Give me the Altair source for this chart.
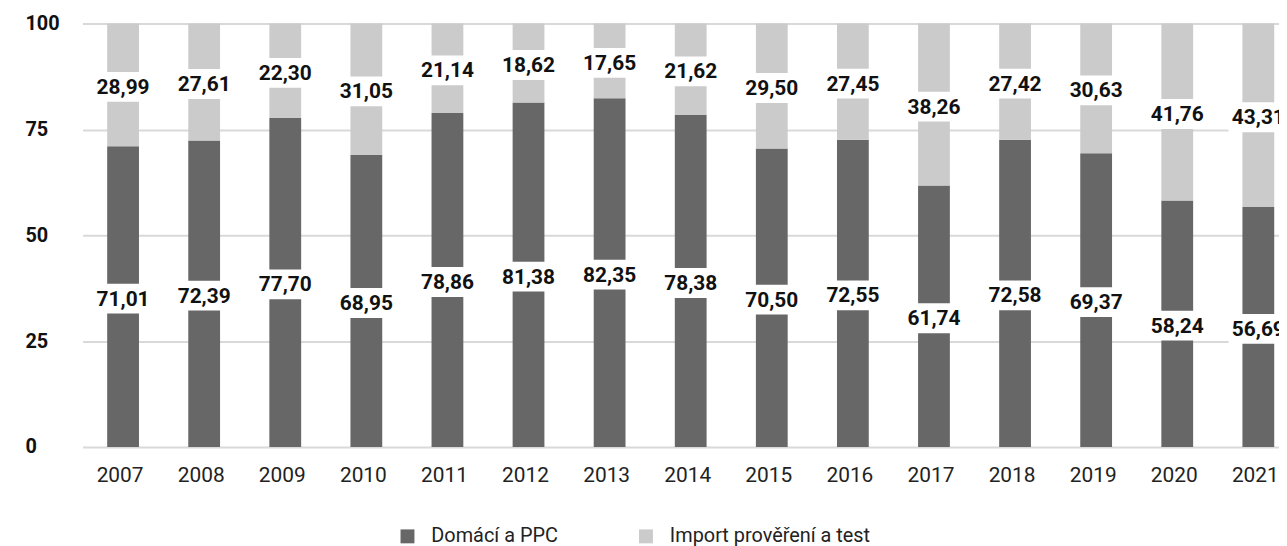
import altair as alt
import pandas as pd

years = [str(y) for y in range(2007, 2022)]
domaci = [71.01, 72.39, 77.70, 68.95, 78.86, 81.38, 82.35, 78.38, 70.50, 72.55, 61.74, 72.58, 69.37, 58.24, 56.69]
importy = [28.99, 27.61, 22.30, 31.05, 21.14, 18.62, 17.65, 21.62, 29.50, 27.45, 38.26, 27.42, 30.63, 41.76, 43.31]
series = ["Domácí a PPC", "Import prověření a test"]
colors = ["#676767", "#cbcbcb"]
y_ticks = [0, 25, 50, 75, 100]

rows = []
for i, y in enumerate(years):
    rows.append({"year": y, "series": series[0], "value": domaci[i], "order": 0})
    rows.append({"year": y, "series": series[1], "value": importy[i], "order": 1})
df = pd.DataFrame(rows)

base = alt.Chart(df).transform_stack(
    stack="value", groupby=["year"],
    sort=[alt.SortField("order", order="ascending")],
    as_=["y0", "y1"],
).transform_calculate(
    mid="(datum.y0 + datum.y1) / 2",
    lab="replace(format(datum.value, '.2f'), '.', ',')",
)

xenc = alt.X(
    "year:N", sort=years,
    scale=alt.Scale(range=[0, 1224], paddingInner=0.608, paddingOuter=0.304),
    axis=alt.Axis(title=None, labelAngle=0, domain=False, ticks=False, tickSize=0,
                  grid=False, labelFont="Roboto", labelFontSize=21,
                  labelColor="#222222", labelPadding=18, labelOffset=-3),
)
yaxis = alt.Axis(values=y_ticks, title=None, domain=False, ticks=False, tickSize=0,
                 labelAlign="left", labelPadding=58, labelFont="Roboto",
                 labelFontWeight="bold", labelFontSize=20, labelColor="#111111",
                 gridColor="#d9d9d9", gridWidth=2)
yscale = alt.Scale(domain=[0, 100], nice=False)

bars = base.mark_bar().encode(
    x=xenc,
    y=alt.Y("y0:Q", scale=yscale, axis=yaxis),
    y2="y1:Q",
    color=alt.Color("series:N", sort=series,
                    scale=alt.Scale(domain=series, range=colors),
                    legend=alt.Legend(title=None, orient="none", legendX=317, legendY=506,
                                      direction="horizontal", symbolType="square",
                                      symbolSize=196, symbolStrokeWidth=0,
                                      labelFont="Roboto", labelFontSize=20,
                                      labelColor="#222222", labelOffset=14,
                                      labelLimit=0, columnPadding=78, padding=0)),
)

boxes = base.mark_point(
    shape="M-1,-0.5H1V0.5H-1Z", size=3600, filled=True, fill="white",
    opacity=1, strokeWidth=0, yOffset=2,
).encode(
    x=xenc,
    y=alt.Y("mid:Q", scale=yscale, axis=yaxis),
)

texts = base.mark_text(
    font="Roboto", fontWeight="bold", fontSize=21, color="#111111",
    baseline="middle", dy=3,
).encode(
    x=xenc,
    y=alt.Y("mid:Q", scale=yscale, axis=yaxis),
    text="lab:N",
)

chart = alt.layer(bars, boxes, texts).properties(
    width=1204, height=426,
    autosize=alt.AutoSizeParams(type="none"),
    padding={"left": 75, "top": 14, "right": 0, "bottom": 98},
).configure_view(stroke=None)

chart.save("out.html", embed_options={"renderer": "svg", "actions": False})
